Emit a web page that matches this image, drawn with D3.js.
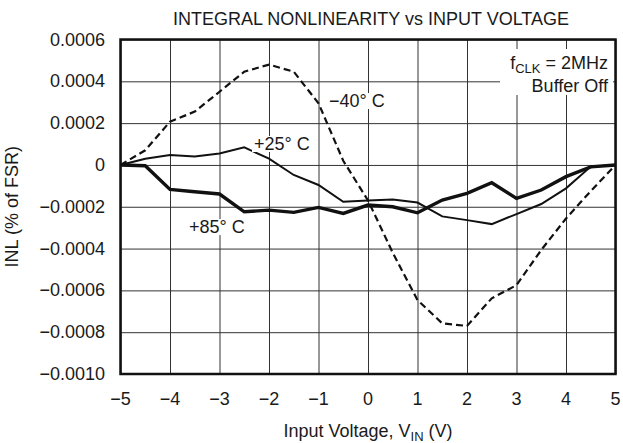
<!DOCTYPE html>
<html>
<head>
<meta charset="utf-8">
<script src="https://cdn.jsdelivr.net/npm/d3@7"></script>
<style>
body { margin: 0; background: #fff; }
svg { display: block; font-family: "Liberation Sans", Arial, sans-serif; }
</style>
</head>
<body>
<svg id="chart" width="623" height="443"></svg>
<script>
// input voltage (V)
const volts = [-5, -4.5, -4, -3.5, -3, -2.5, -2, -1.5, -1, -0.5, 0, 0.5, 1, 1.5, 2, 2.5, 3, 3.5, 4, 4.5, 5];
// INL (% of FSR)
const inlMinus40 = [0, 0.00007, 0.000207, 0.000255, 0.00035, 0.000446, 0.00048, 0.000446, 0.000295, 0.00002,
	-0.00017, -0.00042, -0.000646, -0.000758, -0.00077, -0.000638, -0.000575, -0.000407, -0.000256, -0.000125, 0];
const inl25 = [0, 0.00003, 0.000047, 0.00004, 0.000055, 0.000084, 0.00003, -0.000048, -0.000096, -0.000176,
	-0.00017, -0.000165, -0.00018, -0.000246, -0.000264, -0.000283, -0.000235, -0.000187, -0.000112, -0.000008, 0];
const inl85 = [0, -0.000004, -0.000117, -0.000128, -0.000139, -0.000224, -0.000216, -0.000227, -0.000203, -0.000232,
	-0.000192, -0.0002, -0.000229, -0.000168, -0.000136, -0.000085, -0.00016, -0.00012, -0.000056, -0.000009, 0];

const xTicks = [-5, -4, -3, -2, -1, 0, 1, 2, 3, 4, 5];
const yTicks = [0.0006, 0.0004, 0.0002, 0, -0.0002, -0.0004, -0.0006, -0.0008, -0.0010];

const svg = d3.select('#chart');
const pLeft = 120.5, pRight = 615.5, pTop = 39.5, pBottom = 374;
const fs = 18;

const x = d3.scaleLinear().domain([-5, 5]).range([pLeft, pRight]);
const y = d3.scaleLinear().domain([-0.001, 0.0006]).range([pBottom, pTop]);

const fmtY = d => d === 0 ? '0' : (d < 0 ? '\u2212' : '') + Math.abs(d).toFixed(4);
const fmtX = d => (d < 0 ? '\u2212' : '') + Math.abs(d);

// grid
svg.append('g')
	.attr('transform', `translate(0,${pBottom})`)
	.call(d3.axisBottom(x).tickValues(xTicks).tickSize(-(pBottom - pTop)).tickFormat(''))
	.call(g => g.select('.domain').remove())
	.selectAll('line').attr('stroke', '#333').attr('stroke-width', 1);

svg.append('g')
	.attr('transform', `translate(${pLeft},0)`)
	.call(d3.axisLeft(y).tickValues(yTicks).tickSize(-(pRight - pLeft)).tickFormat(''))
	.call(g => g.select('.domain').remove())
	.selectAll('line').attr('stroke', '#333').attr('stroke-width', 1);

// tick labels
svg.append('g').selectAll('text')
	.data(xTicks).join('text')
	.attr('x', d => x(d)).attr('y', 405)
	.attr('text-anchor', 'middle').attr('font-size', fs).attr('fill', '#1a1a1a')
	.text(fmtX);

svg.append('g').selectAll('text')
	.data(yTicks).join('text')
	.attr('x', 105).attr('y', d => y(d) + 6)
	.attr('text-anchor', 'end').attr('font-size', fs).attr('fill', '#1a1a1a')
	.text(fmtY);

// series
const line = vals => d3.line().x((d, i) => x(volts[i])).y(d => y(d))(vals);

svg.append('path').attr('d', line(inlMinus40))
	.attr('fill', 'none').attr('stroke', '#111').attr('stroke-width', 2.2)
	.attr('stroke-dasharray', '7,4');
svg.append('path').attr('d', line(inl25))
	.attr('fill', 'none').attr('stroke', '#111').attr('stroke-width', 2);
svg.append('path').attr('d', line(inl85))
	.attr('fill', 'none').attr('stroke', '#111').attr('stroke-width', 3.4);

// label with white box behind it
function label(tx, ty, txt) {
	const t = svg.append('text')
		.attr('x', tx).attr('y', ty)
		.attr('font-size', fs).attr('fill', '#1a1a1a')
		.text(txt);
	const b = t.node().getBBox();
	svg.insert('rect', () => t.node())
		.attr('x', b.x - 2).attr('y', b.y + 2)
		.attr('width', b.width + 4).attr('height', b.height - 4)
		.attr('fill', '#fff');
	return t;
}

label(329, 107, '\u221240\u00b0 C');
label(254, 150, '+25\u00b0 C');
label(189, 233, '+85\u00b0 C');

// fclk / buffer annotation
svg.append('rect').attr('x', 500).attr('y', 49).attr('width', 113).attr('height', 46).attr('fill', '#fff');
const f = svg.append('text').attr('x', 608).attr('y', 69).attr('text-anchor', 'end')
	.attr('font-size', fs).attr('fill', '#1a1a1a');
f.append('tspan').text('f');
f.append('tspan').attr('font-size', 13).attr('dy', 4).text('CLK');
f.append('tspan').attr('dy', -4).text(' = 2MHz');
svg.append('text').attr('x', 608).attr('y', 92).attr('text-anchor', 'end')
	.attr('font-size', fs).attr('fill', '#1a1a1a').text('Buffer Off');

// frame
svg.append('rect')
	.attr('x', pLeft).attr('y', pTop).attr('width', pRight - pLeft).attr('height', pBottom - pTop)
	.attr('fill', 'none').attr('stroke', '#111').attr('stroke-width', 2.5);

// titles
svg.append('text').attr('x', 371).attr('y', 25).attr('text-anchor', 'middle')
	.attr('font-size', fs).attr('fill', '#1a1a1a')
	.text('INTEGRAL NONLINEARITY vs INPUT VOLTAGE');

const xl = svg.append('text').attr('x', 368).attr('y', 437).attr('text-anchor', 'middle')
	.attr('font-size', fs).attr('fill', '#1a1a1a');
xl.append('tspan').text('Input Voltage, V');
xl.append('tspan').attr('font-size', 13).attr('dy', 4).text('IN');
xl.append('tspan').attr('dy', -4).text(' (V)');

svg.append('text')
	.attr('transform', `translate(18,${(pTop + pBottom) / 2}) rotate(-90)`)
	.attr('text-anchor', 'middle').attr('font-size', fs).attr('fill', '#1a1a1a')
	.text('INL (% of FSR)');
</script>
</body>
</html>
